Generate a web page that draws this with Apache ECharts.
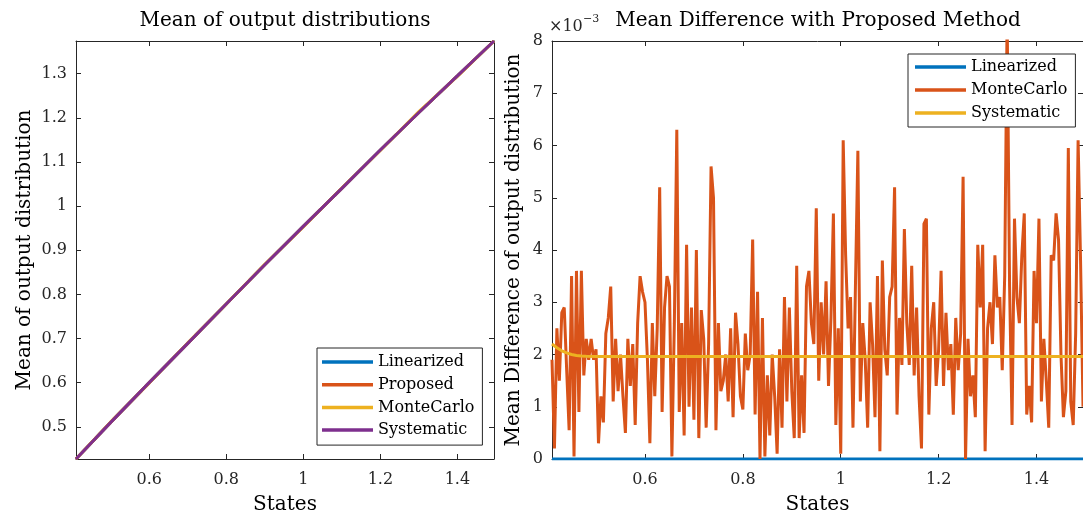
<!DOCTYPE html>
<html><head><meta charset="utf-8">
<script src="https://cdn.jsdelivr.net/npm/echarts@6/dist/echarts.min.js"></script>
<style>html,body{margin:0;padding:0;background:#fff}#c{width:1083px;height:521px}</style>
</head><body><div id="c"></div>
<script>
// ---------- left panel data ----------
const leftStates      = [0.41, 0.5, 0.6, 0.7, 0.8, 0.9, 1.0, 1.1, 1.2, 1.3, 1.4, 1.495];
const leftLinearized  = [0.427, 0.510, 0.600, 0.689, 0.778, 0.867, 0.954, 1.040, 1.127, 1.212, 1.295, 1.374];
const leftProposed    = [0.427, 0.510, 0.600, 0.689, 0.778, 0.867, 0.954, 1.040, 1.127, 1.212, 1.295, 1.374];
const leftMonteCarlo  = [0.427, 0.511, 0.599, 0.690, 0.778, 0.868, 0.953, 1.041, 1.126, 1.214, 1.294, 1.374];
const leftSystematic  = [0.427, 0.510, 0.600, 0.689, 0.778, 0.867, 0.954, 1.040, 1.127, 1.212, 1.295, 1.374];

// ---------- right panel data (values in units of 1e-3) ----------
const diffStateStart = 0.41, diffStateStep = 0.005, diffStateCount = 218;
const diffMonteCarloE3 = [
 1.9,0.2,2.5,1.5,2.8,2.9,1.7,0.55,3.5,0.05,
 3.6,0.9,3.6,1.6,2.3,1.9,2.3,1.9,2.1,0.3,
 1.2,0.7,2.4,2.7,3.3,1.1,2.3,1.3,2.0,1.2,
 0.5,2.3,1.4,2.2,0.65,2.6,3.5,3.2,3.0,1.9,
 0.3,2.6,1.2,2.5,5.2,0.9,2.9,3.5,3.3,0.05,
 2.6,6.3,0.9,2.6,0.45,4.1,1.0,2.9,0.75,4.0,
 0.4,2.85,2.3,0.6,2.2,5.6,5.0,0.55,2.6,1.3,
 1.5,2.0,1.1,2.5,0.8,2.8,2.2,1.2,0.95,2.4,
 1.7,2.0,4.2,0.85,3.2,0.0,2.7,0.05,1.6,0.45,
 2.0,1.2,0.1,2.1,0.6,3.1,1.1,2.9,1.3,0.4,
 3.7,0.4,1.6,0.5,3.3,3.6,2.6,2.2,4.8,1.5,
 3.0,2.0,3.4,1.4,2.7,4.7,0.65,2.5,0.1,6.1,
 3.9,2.5,3.1,0.6,3.3,5.9,1.1,2.6,1.9,0.6,
 3.0,2.2,0.8,3.5,0.15,3.8,2.1,1.6,3.1,3.3,
 5.2,0.85,2.7,1.8,4.4,2.6,1.8,3.7,1.6,2.9,
 1.2,0.2,4.5,4.6,0.85,2.5,3.0,1.4,2.1,3.6,
 1.4,2.8,1.7,2.2,0.85,2.7,1.7,2.4,5.4,0.0,
 2.3,1.2,1.6,0.8,4.1,2.9,4.1,0.15,2.5,3.0,
 2.2,3.9,2.9,3.1,1.7,3.5,8.5,3.3,0.65,4.6,
 3.1,2.6,3.9,4.7,0.85,1.4,0.7,3.6,2.6,4.6,
 1.1,2.3,1.5,0.6,3.9,3.8,4.7,4.2,2.0,0.8,
 1.3,5.95,1.1,0.65,2.4,6.1,3.8,1.0];
const sysStates  = [0.41, 0.42, 0.43, 0.44, 0.45, 0.46, 0.47, 0.48, 0.50, 0.55, 0.60, 0.80, 1.00, 1.20, 1.40, 1.495];
const sysDiffE3  = [2.20, 2.13, 2.07, 2.03, 2.00, 1.98, 1.97, 1.965, 1.96, 1.96, 1.96, 1.96, 1.96, 1.96, 1.96, 1.96];
const linStates  = [0.41, 1.495];
const linDiffE3  = [0, 0];

// ---------- ticks ----------
const xTicks      = [0.6, 0.8, 1, 1.2, 1.4];
const leftYTicks  = [0.5, 0.6, 0.7, 0.8, 0.9, 1, 1.1, 1.2, 1.3];
const rightYTicks = [0, 1, 2, 3, 4, 5, 6, 7, 8];

const diffStates = [];
for (let i = 0; i < diffStateCount; i++) diffStates.push(+(diffStateStart + diffStateStep * i).toFixed(3));

const C = {blue:'#0072BD', orange:'#D95319', yellow:'#EDB120', purple:'#7E2F8E'};
const FONT = 'DejaVu Serif';
const AX = '#262626';
const zip = (xs, ys) => xs.map((x, i) => [x, ys[i]]);

function xAx(grid, pos, show, name) {
  return {type:'value', gridIndex:grid, position:pos, min:0.41, max:1.495,
    name: name || '', nameLocation:'middle', nameGap:36,
    nameTextStyle:{fontFamily:FONT, fontSize:20, color:'#000'},
    axisLine:{show:true, onZero:false, lineStyle:{color:AX, width:1}},
    axisTick:{show:true, inside:true, length:5, customValues:xTicks, lineStyle:{color:AX}},
    axisLabel:{show:show, customValues:xTicks, margin:13, fontFamily:FONT, fontSize:16, color:AX},
    splitLine:{show:false}};
}
function yAx(grid, pos, show, min, max, ticks, name, gap) {
  return {type:'value', gridIndex:grid, position:pos, min:min, max:max,
    name: name || '', nameLocation:'middle', nameGap:gap || 40,
    nameTextStyle:{fontFamily:FONT, fontSize:20, color:'#000'},
    axisLine:{show:true, onZero:false, lineStyle:{color:AX, width:1}},
    axisTick:{show:true, inside:true, length:5, customValues:ticks, lineStyle:{color:AX}},
    axisLabel:{show:show, customValues:ticks, margin:9, fontFamily:FONT, fontSize:16, color:AX},
    splitLine:{show:false}};
}
function line(name, color, data, xi, yi) {
  return {type:'line', name:name, data:data, xAxisIndex:xi, yAxisIndex:yi,
    symbol:'none', showSymbol:false, clip:true, animation:false,
    lineStyle:{color:color, width:3}, itemStyle:{color:color}};
}

const chart = echarts.init(document.getElementById('c'));
chart.setOption({
  animation:false,
  backgroundColor:'#fff',
  grid:[{left:76, top:41, width:418, height:418}, {left:552, top:41, width:532, height:418}],
  xAxis:[xAx(0,'bottom',true,'States'), xAx(0,'top',false), xAx(1,'bottom',true,'States'), xAx(1,'top',false)],
  yAxis:[yAx(0,'left',true,0.427,1.374,leftYTicks,'Mean of output distribution',41),
         yAx(0,'right',false,0.427,1.374,leftYTicks),
         yAx(1,'left',true,0,8,rightYTicks,'Mean Difference of output distribution',28),
         yAx(1,'right',false,0,8,rightYTicks)],
  legend:[
    {left:317, top:348, orient:'vertical', icon:'rect', itemWidth:51, itemHeight:3.5, itemGap:4.7,
     padding:[5,8,6,5], backgroundColor:'#fff', borderColor:AX, borderWidth:1, borderRadius:0,
     textStyle:{fontFamily:FONT, fontSize:16, color:'#000', lineHeight:18},
     selectedMode:false,
     data:[{name:'Linearized', itemStyle:{color:C.blue}}, {name:'Proposed', itemStyle:{color:C.orange}},
           {name:'MonteCarlo', itemStyle:{color:C.yellow}}, {name:'Systematic', itemStyle:{color:C.purple}}]},
    {left:908, top:54, orient:'vertical', icon:'rect', itemWidth:51, itemHeight:3.5, itemGap:5,
     padding:[4,8,5,7], backgroundColor:'#fff', borderColor:AX, borderWidth:1, borderRadius:0,
     textStyle:{fontFamily:FONT, fontSize:16, color:'#000', lineHeight:18},
     selectedMode:false,
     data:[{name:'Linearized', itemStyle:{color:C.blue}}, {name:'MonteCarlo', itemStyle:{color:C.orange}},
           {name:'Systematic', itemStyle:{color:C.yellow}}]}
  ],
  graphic:[
    {type:'text', x:285, y:21, style:{text:'Mean of output distributions', align:'center', verticalAlign:'middle', font:'20px "DejaVu Serif"', fill:'#000'}},
    {type:'text', x:818, y:21, style:{text:'Mean Difference with Proposed Method', align:'center', verticalAlign:'middle', font:'20px "DejaVu Serif"', fill:'#000'}},
    {type:'text', x:549, y:27, style:{text:'×10', align:'left', verticalAlign:'middle', font:'16px "DejaVu Serif"', fill:AX}},
    {type:'text', x:583, y:19, style:{text:'−3', align:'left', verticalAlign:'middle', font:'11px "DejaVu Serif"', fill:AX}}
  ],
  series:[
    line('Linearized', C.blue,   zip(leftStates, leftLinearized), 0, 0),
    line('Proposed',   C.orange, zip(leftStates, leftProposed),   0, 0),
    line('MonteCarlo', C.yellow, zip(leftStates, leftMonteCarlo), 0, 0),
    line('Systematic', C.purple, zip(leftStates, leftSystematic), 0, 0),
    line('Linearized', C.blue,   zip(linStates, linDiffE3),       2, 2),
    line('MonteCarlo', C.orange, zip(diffStates, diffMonteCarloE3), 2, 2),
    line('Systematic', C.yellow, zip(sysStates, sysDiffE3),       2, 2)
  ]
});
</script></body></html>
